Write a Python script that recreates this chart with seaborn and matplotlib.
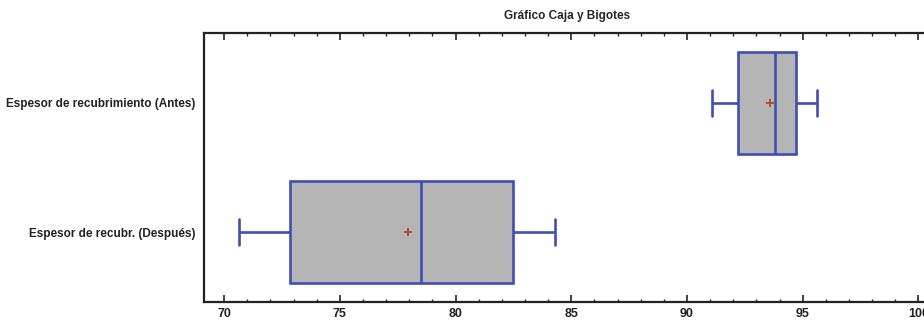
import matplotlib
matplotlib.use("Agg")
import matplotlib.pyplot as plt
from matplotlib.ticker import MultipleLocator
import pandas as pd
import seaborn as sns

# Datos (resumen de cinco numeros + media)
categorias = ["Espesor de recubrimiento (Antes)", "Espesor de recubr. (Después)"]
minimos = [91.1, 70.65]
q1 = [92.2, 72.85]
medianas = [93.8, 78.5]
q3 = [94.7, 82.5]
maximos = [95.6, 84.3]
medias = [93.6, 77.95]

sns.set_style("white")
plt.rcParams['font.family'] = ['Liberation Sans', 'DejaVu Sans']
plt.rcParams['font.weight'] = 'bold'

# tabla larga: cada categoria con sus cinco valores
filas = []
for i, c in enumerate(categorias):
    for v in (minimos[i], q1[i], medianas[i], q3[i], maximos[i]):
        filas.append({"grupo": c, "valor": v})
df = pd.DataFrame(filas)
df_medias = pd.DataFrame({"grupo": categorias, "media": medias})

azul = "#3f4fb3"
fig = plt.figure(figsize=(9.24, 3.26), dpi=100)
ax = fig.add_axes([204 / 924, 24 / 326, 726 / 924, 269 / 326])

sns.boxplot(data=df, x="valor", y="grupo", order=categorias, ax=ax,
            whis=(0, 100), width=0.79, color="#b5b5b5", saturation=1,
            linewidth=1.9, linecolor=azul, capwidths=0.2,
            boxprops=dict(facecolor="#b5b5b5", edgecolor=azul),
            medianprops=dict(color=azul), whiskerprops=dict(color=azul),
            capprops=dict(color=azul))
sns.scatterplot(data=df_medias, x="media", y="grupo", ax=ax, marker="+",
                s=40, color="#b0481e", linewidth=1.3, zorder=5)

ax.set_xlim(69.13, 100.5)
ax.set_ylim(1.54, -0.54)
ax.xaxis.set_major_locator(MultipleLocator(5))
ax.xaxis.set_minor_locator(MultipleLocator(1))
ax.tick_params(axis="x", which="both", direction="in", top=True, bottom=True,
               labelsize=9, colors="#222222", pad=4)
ax.tick_params(axis="x", which="major", length=5, width=1.2)
ax.tick_params(axis="x", which="minor", length=2.5, width=1)
ax.tick_params(axis="y", length=0, labelsize=8.5, pad=6, colors="#222222")
for s in ax.spines.values():
    s.set_linewidth(1.6)
    s.set_color("#222222")
ax.set_xlabel("")
ax.set_ylabel("")
ax.set_title("Gráfico Caja y Bigotes", fontsize=8.5, fontweight="bold", pad=10)

fig.savefig("out.png", dpi=100)
